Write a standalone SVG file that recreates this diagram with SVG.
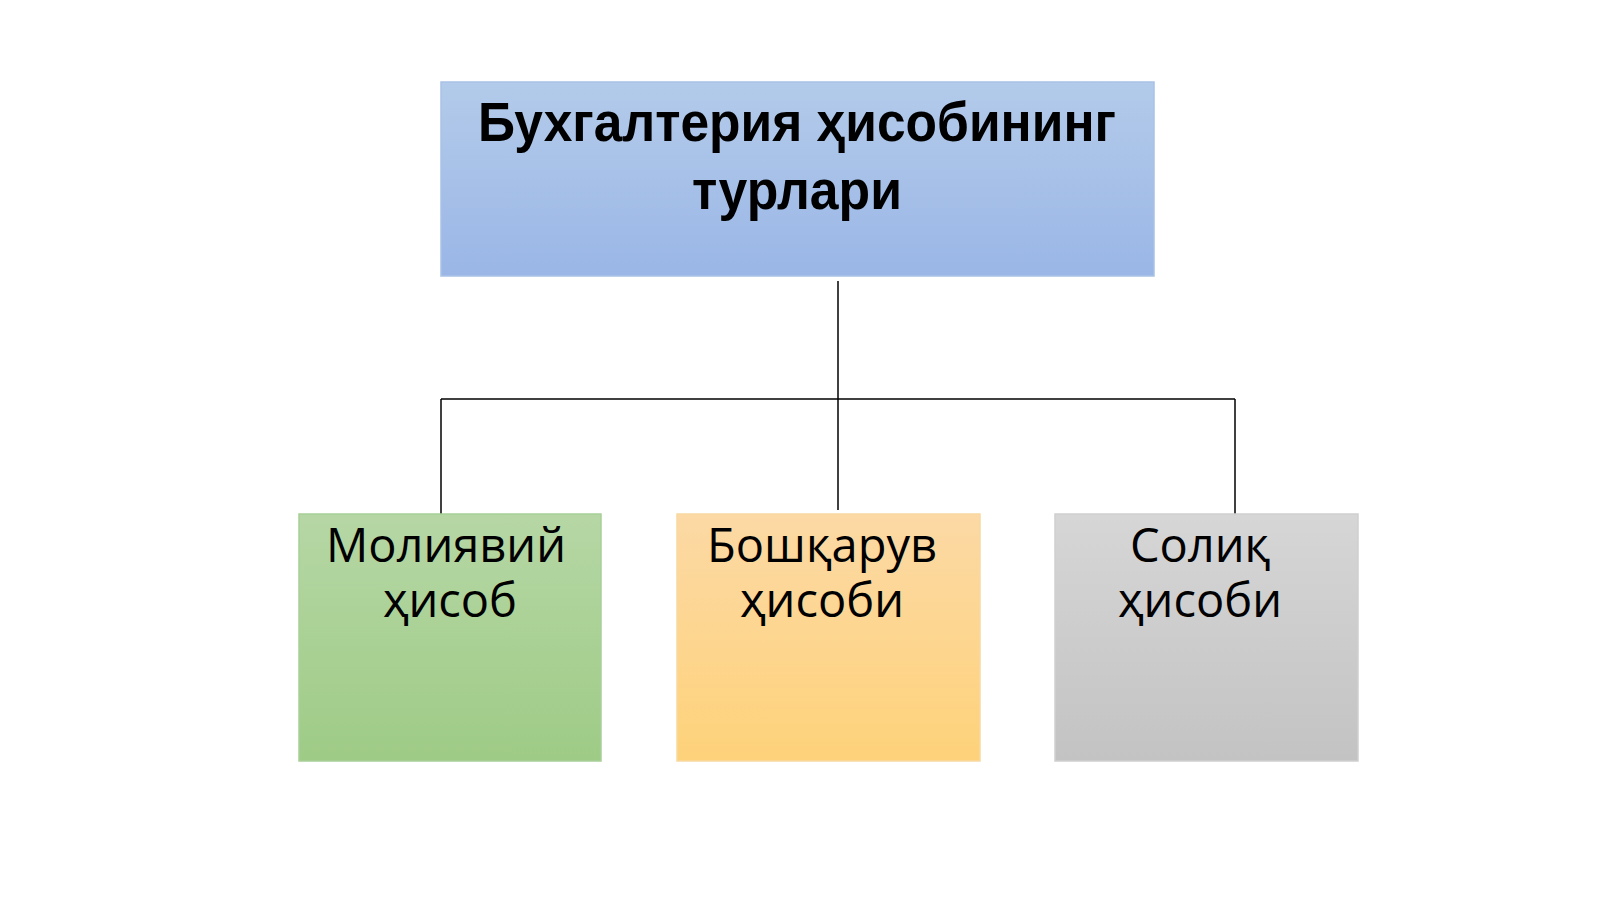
<svg xmlns="http://www.w3.org/2000/svg" width="1600" height="899" viewBox="0 0 1600 899">
<defs>
<linearGradient id="gBlue" x1="0" y1="0" x2="0" y2="1"><stop offset="0" stop-color="#b3cbea"/><stop offset="1" stop-color="#9ab6e6"/></linearGradient>
<linearGradient id="gGreen" x1="0" y1="0" x2="0" y2="1"><stop offset="0" stop-color="#b6d7a5"/><stop offset="1" stop-color="#9ecb86"/></linearGradient>
<linearGradient id="gOrange" x1="0" y1="0" x2="0" y2="1"><stop offset="0" stop-color="#fcd9a5"/><stop offset="1" stop-color="#fed27a"/></linearGradient>
<linearGradient id="gGray" x1="0" y1="0" x2="0" y2="1"><stop offset="0" stop-color="#d6d6d6"/><stop offset="1" stop-color="#c3c3c3"/></linearGradient>
</defs>
<style>
.box{stroke-width:1.5}
.title{font-family:"Liberation Sans",Arial,sans-serif;font-weight:bold;font-size:55px;fill:#000;text-anchor:middle}
.lbl{font-family:"Open Sans","Noto Sans",sans-serif;font-size:47px;fill:#000;text-anchor:middle}
.conn{stroke:#000;stroke-width:1.5;fill:none}
</style>
<rect width="1600" height="899" fill="#ffffff"/>
<g id="connectors">
<line class="conn" x1="838" y1="281" x2="838" y2="510"/>
<line class="conn" x1="441" y1="399" x2="1235" y2="399"/>
<line class="conn" x1="441" y1="399" x2="441" y2="514"/>
<line class="conn" x1="1235" y1="399" x2="1235" y2="514"/>
</g>
<g id="root">
<rect class="box" x="441" y="82" width="713" height="194" fill="url(#gBlue)" stroke="#a9c2e6"/>
<text class="title" x="797" y="141" textLength="638" lengthAdjust="spacingAndGlyphs">Бухгалтерия ҳисобининг</text>
<text class="title" x="797" y="209" textLength="210" lengthAdjust="spacingAndGlyphs">турлари</text>
</g>
<g id="financial">
<rect class="box" x="299" y="514" width="302" height="247" fill="url(#gGreen)" stroke="#a8cf98"/>
<text class="lbl" x="446" y="562">Молиявий</text>
<text class="lbl" x="450" y="617">ҳисоб</text>
</g>
<g id="management">
<rect class="box" x="677" y="514" width="303" height="247" fill="url(#gOrange)" stroke="#f8d9a0"/>
<text class="lbl" x="822" y="562">Бошқарув</text>
<text class="lbl" x="822" y="617">ҳисоби</text>
</g>
<g id="tax">
<rect class="box" x="1055" y="514" width="303" height="247" fill="url(#gGray)" stroke="#cfcfcf"/>
<text class="lbl" x="1200" y="562">Солиқ</text>
<text class="lbl" x="1200" y="617">ҳисоби</text>
</g>
</svg>
